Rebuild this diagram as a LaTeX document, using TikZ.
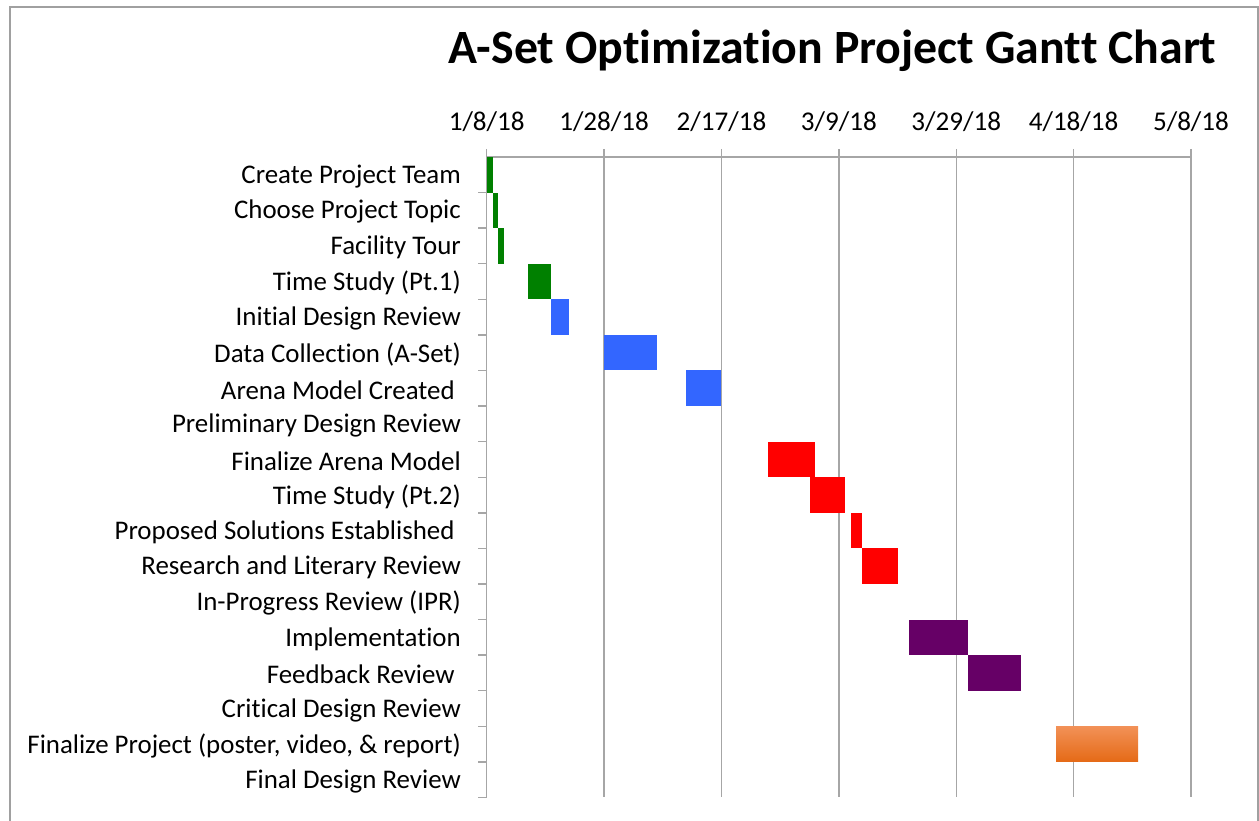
\documentclass[tikz,border=0pt]{standalone}
\usepackage{fontspec}
\setmainfont{Carlito}[RawFeature={-liga;-clig;-dlig;-calt}]
\definecolor{gridgray}{HTML}{A6A6A6}
\definecolor{framegray}{HTML}{A0A0A0}
\definecolor{taskgreen}{HTML}{008000}
\definecolor{taskblue}{HTML}{3366FF}
\definecolor{taskred}{HTML}{FF0000}
\definecolor{taskpurple}{HTML}{660066}
\definecolor{orangetop}{HTML}{F29157}
\definecolor{orangemid}{HTML}{F58026}
\definecolor{orangebot}{HTML}{E56A16}
\begin{document}
\begin{tikzpicture}[x=1pt,y=-1pt,
  tasklabel/.style={anchor=east,inner sep=0pt,font=\fontsize{26.9}{30}\selectfont},
  datelabel/.style={anchor=center,inner sep=0pt,font=\fontsize{27.1}{30}\selectfont},
  gridline/.style={draw=gridgray,line width=1.4pt},
  framestyle/.style={draw=framegray,line width=1.6pt}]
\useasboundingbox (0,0) rectangle (1259,821);
% chart geometry: origin of the time axis, pixels per day, row height
\def\XO{486.7}
\def\DX{5.869}
\def\YO{157}
\def\RH{35.58}
% outer frame
\draw[framestyle] (10,830) -- (10,7) -- (1258,7) -- (1258,830);
% title (kerns keep t-i and t-t as separate letters)
\node[inner sep=0pt,font=\bfseries\fontsize{47.8}{52}\selectfont] (title) at (832.5,51)
  {A-Set Opt\kern0pt imizat\kern0pt ion Project Gant\kern0pt t Chart};
% vertical grid lines and date labels every 20 days
\foreach \k/\d in {0/1\slash8\slash18,1/1\slash28\slash18,2/2\slash17\slash18,3/3\slash9\slash18,4/3\slash29\slash18,5/4\slash18\slash18,6/5\slash8\slash18}{
  \coordinate (gtop\k) at ({\XO+20*\k*\DX},149);
  \coordinate (gbot\k) at ({\XO+20*\k*\DX},{\YO+18*\RH});
  \draw[gridline] (gtop\k) -- (gbot\k);
  \node[datelabel] (date\k) at ({\XO+20*\k*\DX},122) {\d};
}
% top axis line
\coordinate (axl) at (\XO,\YO);
\coordinate (axr) at ({\XO+120*\DX},\YO);
\draw[gridline] (axl) -- (axr);
% row tick marks on the category axis
\foreach \i in {1,...,18}{
  \coordinate (tk\i) at (478,{\YO+\i*\RH});
  \coordinate (tka\i) at (\XO,{\YO+\i*\RH});
  \draw[gridline] (tk\i) -- (tka\i);
}
% task bars: row / start day / end day / colour
\foreach \i/\s/\e/\c in {1/0/1/taskgreen,2/1/2/taskgreen,3/2/3/taskgreen,4/7/11/taskgreen,
  5/11/14/taskblue,6/20/29/taskblue,7/34/40/taskblue,
  9/48/56/taskred,10/55/61/taskred,11/62/64/taskred,12/64/70/taskred,
  14/72/82/taskpurple,15/82/91/taskpurple}{
  \fill[\c] ({\XO+\s*\DX},{\YO+(\i-1)*\RH}) rectangle ({\XO+\e*\DX},{\YO+\i*\RH});
}
\shade[top color=orangetop,middle color=orangemid,bottom color=orangebot]
  ({\XO+97*\DX},{\YO+16*\RH}) rectangle ({\XO+111*\DX},{\YO+17*\RH});
% task names (some carry a trailing space)
\foreach \i/\t in {1/Create Project Team,2/Choose Project Topic,3/Facility Tour,4/Time Study (Pt.1),
  5/Initial Design Review,6/Data Collection (A-Set),7/Arena Model Created\kern0.23em,
  8/Preliminary Design Review,9/Finalize Arena Model,10/Time Study (Pt.2),
  11/Proposed Solutions Established\kern0.23em,12/Research and Literary Review,
  13/In-Progress Review (IPR),14/Implementation,15/Feedback Review\kern0.23em,
  16/Critical Design Review,17/{Finalize Project (poster, video, \& report)},18/Final Design Review}{
  \node[tasklabel] (task\i) at (461,{\YO+(\i-0.5)*\RH+1.5}) {\t};
}
\end{tikzpicture}
\end{document}
